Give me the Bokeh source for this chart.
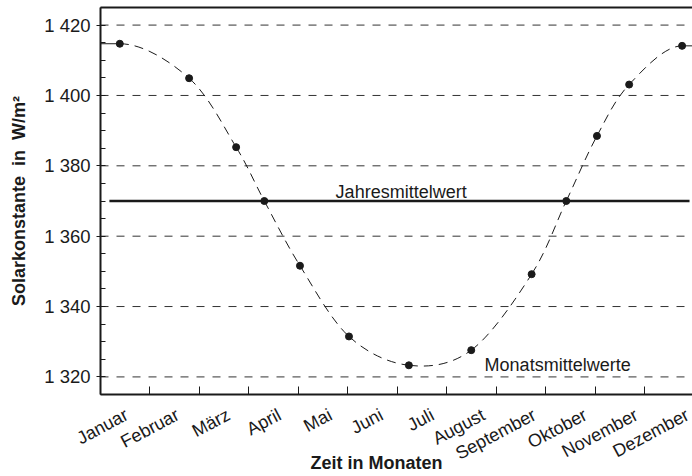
import numpy as np
from bokeh.plotting import figure
from bokeh.models import Range1d, FixedTicker, LinearAxis, Label
from bokeh.embed import file_html
from bokeh.resources import INLINE

# Monthly mean values of the solar constant (W/m²) and their position in the year (months)
month_pos = [0.39, 1.79, 2.74, 3.31, 4.03, 5.02, 6.23, 7.49, 8.71, 9.41, 10.03, 10.68, 11.75]
solar = [1414.7, 1404.9, 1385.3, 1370.0, 1351.6, 1331.5, 1323.3, 1327.6, 1349.2, 1370.0,
         1388.5, 1403.1, 1414.1]
annual_mean = 1370.0

months = ["Januar", "Februar", "März", "April", "Mai", "Juni", "Juli", "August",
          "September", "Oktober", "November", "Dezember"]
y_ticks = [1320, 1340, 1360, 1380, 1400, 1420]
y_tick_labels = ["1 320", "1 340", "1 360", "1 380", "1 400", "1 420"]

FONT = "Liberation Sans"
INK = "#1a1a1a"
X_END = 11.96
NBSP = "\u00a0"

p = figure(width=692, height=476, output_backend="svg", toolbar_location=None,
           x_range=Range1d(0, X_END), y_range=Range1d(1315, 1425),
           x_axis_type=None, y_axis_type=None,
           min_border_left=100, min_border_right=0, min_border_top=7,
           min_border_bottom=0)
p.outline_line_color = None
p.background_fill_color = "white"
p.border_fill_color = "white"

# y axis with thousands separated by a space
yax = LinearAxis(ticker=FixedTicker(ticks=y_ticks,
                                    minor_ticks=list(range(1315, 1426, 5))))
yax.major_label_overrides = {t: l for t, l in zip(y_ticks, y_tick_labels)}
yax.axis_line_width = 2
yax.axis_line_color = INK
yax.major_tick_out = 4
yax.major_tick_in = 0
yax.minor_tick_in = 5
yax.minor_tick_out = 0
yax.major_tick_line_color = INK
yax.minor_tick_line_color = INK
yax.major_label_standoff = 6
yax.major_label_text_font = FONT
yax.major_label_text_font_size = "18.5px"
yax.major_label_text_color = INK
yax.axis_label = "Solarkonstante" + NBSP + " in" + NBSP + " W/m²"
yax.axis_label_text_font = FONT
yax.axis_label_text_font_style = "bold"
yax.axis_label_text_font_size = "18px"
yax.axis_label_text_color = INK
yax.axis_label_standoff = 12
p.add_layout(yax, "left")

# x axis: month boundaries as inward minor ticks, month names as slanted labels
label_pos = [0.53 + 1.03 * k for k in range(12)]
xax = LinearAxis(ticker=FixedTicker(ticks=label_pos, minor_ticks=list(range(0, 13))))
xax.major_label_overrides = {x: m for x, m in zip(label_pos, months)}
xax.major_label_orientation = np.deg2rad(28)
xax.major_label_text_font = FONT
xax.major_label_text_font_size = "18px"
xax.major_label_text_color = INK
xax.major_label_standoff = 13
xax.axis_line_width = 2
xax.axis_line_color = INK
xax.major_tick_line_color = None
xax.minor_tick_in = 8
xax.minor_tick_out = 0
xax.minor_tick_line_color = INK
# trailing no-break spaces shift the centred title a little to the left
xax.axis_label = "Zeit in Monaten" + NBSP * 8
xax.axis_label_text_font = FONT
xax.axis_label_text_font_style = "bold"
xax.axis_label_text_font_size = "18px"
xax.axis_label_text_color = INK
xax.axis_label_standoff = -22
p.add_layout(xax, "below")

# top border line
top = LinearAxis(ticker=FixedTicker(ticks=[]))
top.axis_line_width = 2
top.axis_line_color = INK
top.major_tick_line_color = None
top.minor_tick_line_color = None
top.major_label_text_font_size = "1px"
p.add_layout(top, "above")

# dashed horizontal grid
for t in y_ticks:
    p.line([0, X_END], [t, t], line_color="#333333", line_width=1, line_dash="8 8")

# annual mean
p.line([0.18, 11.9], [annual_mean, annual_mean], line_color=INK, line_width=2.6)

# smooth dashed curve through the monthly means (Catmull-Rom as cubic Beziers),
# with level tangents at both ends of the year
xs = np.array(month_pos)
ys = np.array(solar)
n = len(xs)
px = np.concatenate([[2 * xs[0] - xs[1]], xs, [2 * xs[-1] - xs[-2]]])
py = np.concatenate([[ys[1]], ys, [ys[-2]]])
x0, y0, x1, y1, cx0, cy0, cx1, cy1 = [], [], [], [], [], [], [], []
for i in range(1, n):
    x0.append(px[i]); y0.append(py[i]); x1.append(px[i + 1]); y1.append(py[i + 1])
    cx0.append(px[i] + (px[i + 1] - px[i - 1]) / 6)
    cy0.append(py[i] + (py[i + 1] - py[i - 1]) / 6)
    cx1.append(px[i + 1] - (px[i + 2] - px[i]) / 6)
    cy1.append(py[i + 1] - (py[i + 2] - py[i]) / 6)
p.bezier(x0=x0, y0=y0, x1=x1, y1=y1, cx0=cx0, cy0=cy0, cx1=cx1, cy1=cy1,
         line_color=INK, line_width=1, line_dash="9 6")
# solid run-in / run-out at the year boundaries
p.line([0, xs[0]], [ys[0], ys[0]], line_color=INK, line_width=1)
p.line([xs[-1], X_END], [ys[-1], ys[-1]], line_color=INK, line_width=1)

p.scatter(xs, ys, size=7, color=INK)

p.add_layout(Label(x=4.75, y=1372.5, text="Jahresmittelwert", text_font=FONT,
                   text_font_size="18px", text_color=INK, text_baseline="alphabetic"))
p.add_layout(Label(x=7.76, y=1323.5, text="Monatsmittelwerte", text_font=FONT,
                   text_font_size="18px", text_color=INK, text_baseline="alphabetic"))

open("out.html", "w").write(file_html(p, INLINE))
